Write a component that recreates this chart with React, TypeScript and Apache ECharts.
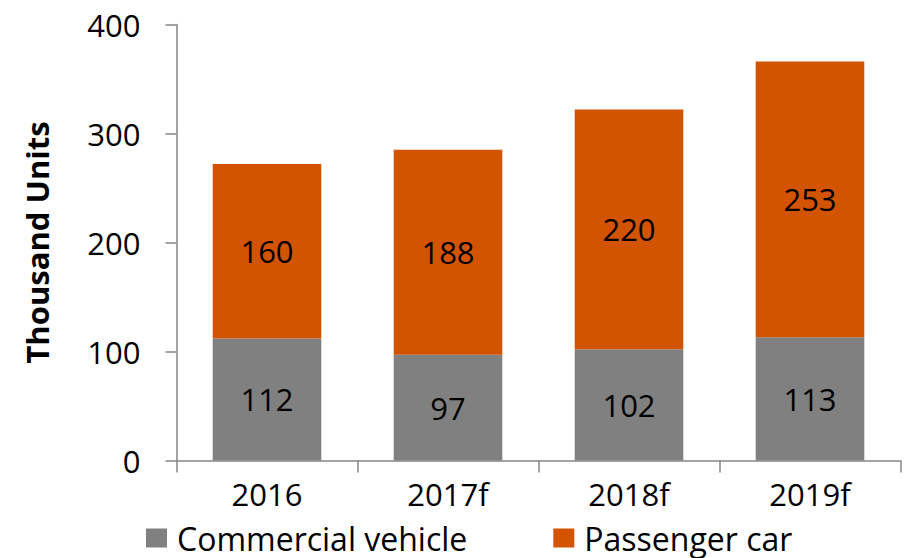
import React, { useEffect, useRef } from "react";
import * as echarts from "echarts";

const categories = ["2016", "2017f", "2018f", "2019f"];
const commercialVehicle = [112, 97, 102, 113];
const passengerCar = [160, 188, 220, 253];
const yTicks = [0, 100, 200, 300, 400];

const FONT = "'Open Sans', 'Noto Sans', sans-serif";

export default function App() {
  const ref = useRef<HTMLDivElement>(null);
  useEffect(() => {
    if (!ref.current) return;
    const chart = echarts.init(ref.current, undefined, { renderer: "svg" });
    chart.setOption({
      animation: false,
      textStyle: { fontFamily: FONT, color: "#000" },
      grid: { left: 176.5, right: 5.5, top: 24.5, bottom: 97.5, containLabel: false },
      legend: {
        left: 141,
        top: 517,
        itemWidth: 21,
        itemHeight: 19,
        itemGap: 86,
        icon: "rect",
        textStyle: { fontFamily: FONT, fontSize: 32, lineHeight: 32, color: "#000", padding: [0, 0, 0, 5] },
        data: ["Commercial vehicle", "Passenger car"],
      },
      xAxis: {
        type: "category",
        data: categories,
        axisLine: { lineStyle: { color: "#868686", width: 1.5 } },
        axisTick: { show: true, length: 12, lineStyle: { color: "#868686", width: 1.5 } },
        axisLabel: { fontFamily: FONT, fontSize: 31, color: "#000", margin: 18 },
      },
      yAxis: {
        type: "value",
        min: yTicks[0],
        max: yTicks[yTicks.length - 1],
        interval: 100,
        name: "Thousand Units",
        nameLocation: "middle",
        nameGap: 124,
        nameTextStyle: { fontFamily: FONT, fontSize: 31, fontWeight: "bold", color: "#000" },
        axisLine: { show: true, lineStyle: { color: "#868686", width: 1.5 } },
        axisTick: { show: true, length: 11, lineStyle: { color: "#868686", width: 1.5 } },
        splitLine: { show: false },
        axisLabel: { fontFamily: FONT, fontSize: 31, color: "#000", margin: 36 },
      },
      series: [
        {
          name: "Commercial vehicle",
          type: "bar",
          stack: "total",
          barCategoryGap: "40%",
          data: commercialVehicle,
          itemStyle: { color: "#808080" },
          label: { show: true, position: "inside", fontFamily: FONT, fontSize: 31, color: "#000" },
        },
        {
          name: "Passenger car",
          type: "bar",
          stack: "total",
          barCategoryGap: "40%",
          data: passengerCar,
          itemStyle: { color: "#D35400" },
          label: { show: true, position: "inside", fontFamily: FONT, fontSize: 31, color: "#000" },
        },
      ],
    });
    return () => chart.dispose();
  }, []);
  return <div ref={ref} style={{ width: 906, height: 558, position: "absolute", left: 0, top: 0 }} />;
}
